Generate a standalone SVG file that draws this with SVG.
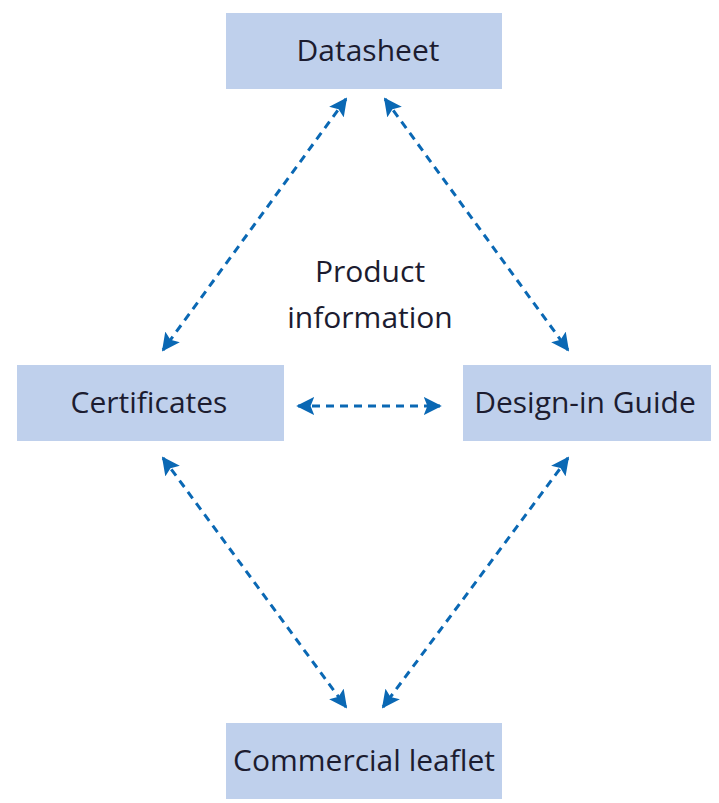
<svg xmlns="http://www.w3.org/2000/svg" width="719" height="803" viewBox="0 0 719 803">
<style>
.box{fill:#bfd0ec}
.t{font-family:"Open Sans","Liberation Sans",sans-serif;font-size:30px;fill:#1c1c30;text-anchor:middle}
.c{stroke:#0a68b4;stroke-width:3;stroke-dasharray:8,6;fill:none;marker-start:url(#a);marker-end:url(#a)}
</style>
<defs><marker id="a" viewBox="0 0 10 10" refX="9" refY="5" markerWidth="6" markerHeight="6" orient="auto-start-reverse" markerUnits="strokeWidth"><path d="M0,0 L10,5 L0,10 L2,5 Z" fill="#0a68b4"/></marker></defs>
<rect width="719" height="803" fill="#fff"/>
<g id="datasheet"><rect class="box" x="226" y="13" width="276" height="76"/><text class="t" x="368" y="61">Datasheet</text></g>
<g id="certificates"><rect class="box" x="17" y="365" width="267" height="76"/><text class="t" x="149" y="413">Certificates</text></g>
<g id="design"><rect class="box" x="463" y="365" width="248" height="76"/><text class="t" x="585" y="413">Design-in Guide</text></g>
<g id="leaflet"><rect class="box" x="226" y="723" width="276" height="76"/><text class="t" x="364" y="771">Commercial leaflet</text></g>
<g id="center"><text class="t" x="370" y="282">Product</text><text class="t" x="370" y="328">information</text></g>
<g id="connectors">
<line class="c" x1="346" y1="99" x2="163" y2="350"/>
<line class="c" x1="385" y1="99" x2="568" y2="350"/>
<line class="c" x1="298" y1="406" x2="440" y2="406"/>
<line class="c" x1="163" y1="458" x2="346" y2="707"/>
<line class="c" x1="568" y1="458" x2="383" y2="707"/>
</g>
</svg>
